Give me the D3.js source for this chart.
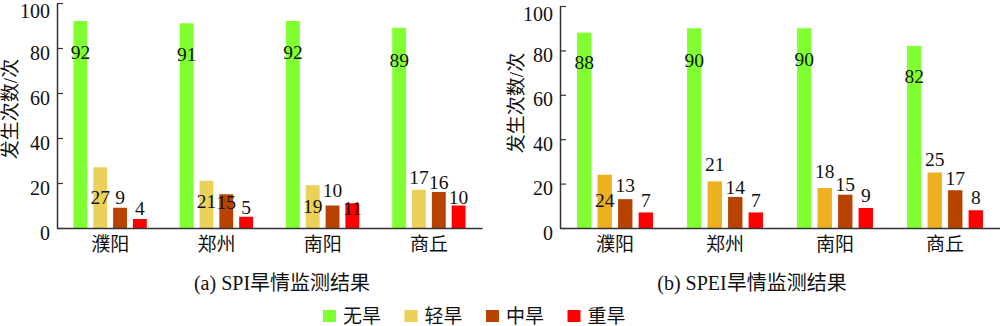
<!DOCTYPE html>
<html>
<head>
<meta charset="utf-8">
<script src="https://cdn.jsdelivr.net/npm/d3@7"></script>
<style>
  body { margin: 0; background: #fff; }
  text { font-family: "Liberation Serif", "Noto Sans CJK SC", serif; fill: #111; }
</style>
</head>
<body>
<script>
// categories and series
var cities = ['濮阳', '郑州', '南阳', '商丘'];
var levels = ['无旱', '轻旱', '中旱', '重旱'];

// SPI results
var spiNone = [92, 91, 92, 89];
var spiLight = [27, 21, 19, 17];
var spiMid = [9, 15, 10, 16];
var spiHeavy = [4, 5, 11, 10];

// SPEI results
var speiNone = [88, 90, 90, 82];
var speiLight = [24, 21, 18, 25];
var speiMid = [13, 14, 15, 17];
var speiHeavy = [7, 7, 9, 8];

var yTicks = [0, 20, 40, 60, 80, 100];

// label nudges (px from bar top, per city, per level) - the source placed them by hand
var spiLabelNudge = [[31, 30, -11, -11], [31, 20, 8, -10], [31, 21, -15, 5], [32, -13, -10, -8]];
var speiLabelNudge = [[30, 25, -14, -12], [32, -17, -10, -12], [31, -17, -11, -13], [30, -13, -12, -13]];

var spiColors = ['#80ff33', '#ebd05a', '#b84300', '#ff0000'];
var speiColors = ['#80ff33', '#edb020', '#b84300', '#ff0000'];

var W = 1000, H = 326;
var svg = d3.select('body').append('svg').attr('width', W).attr('height', H);

function drawPanel(cfg) {
  var series = [cfg.none, cfg.light, cfg.mid, cfg.heavy];
  var rows = [];
  cities.forEach(function(c, i) {
    levels.forEach(function(l, j) {
      rows.push({city: c, level: l, value: series[j][i], ci: i, li: j});
    });
  });

  var x0 = d3.scaleBand().domain(cities).range(cfg.xRange)
    .paddingInner(0.31).paddingOuter(0.155);
  var x1 = d3.scaleBand().domain(levels).range([0, x0.bandwidth()]).paddingInner(0.3);
  var y = d3.scaleLinear().domain([0, 100]).range(cfg.yRange);

  var g = svg.append('g');

  // bars
  g.selectAll('rect.bar')
    .data(rows)
    .enter()
    .append('rect')
    .attr('class', 'bar')
    .attr('x', function(d) { return x0(d.city) + x1(d.level); })
    .attr('y', function(d) { return y(d.value); })
    .attr('width', x1.bandwidth())
    .attr('height', function(d) { return y(0) - y(d.value); })
    .attr('fill', function(d) { return cfg.colors[d.li]; });

  // value labels
  g.selectAll('text.val')
    .data(rows)
    .enter()
    .append('text')
    .attr('class', 'val')
    .attr('x', function(d) { return x0(d.city) + x1(d.level) + x1.bandwidth() / 2; })
    .attr('y', function(d) { return y(d.value) + cfg.nudge[d.ci][d.li]; })
    .attr('dy', '0.35em')
    .attr('text-anchor', 'middle')
    .style('font-size', '19.5px')
    .text(function(d) { return d.value; });

  // y axis, ticks pointing inward
  var ya = g.append('g')
    .attr('transform', 'translate(' + cfg.xRange[0] + ',0)')
    .call(d3.axisLeft(y).tickValues(yTicks).tickSizeInner(-6).tickSizeOuter(0).tickPadding(7));
  ya.selectAll('text')
    .attr('font-family', null)
    .attr('dy', function(d) { return d === 100 ? '0.72em' : '0.55em'; })
    .style('font-size', '20px');
  ya.select('.domain').attr('stroke', '#333').attr('stroke-width', 1.5);
  ya.selectAll('.tick line').attr('stroke', '#333').attr('stroke-width', 1.2);

  // x axis
  var xa = g.append('g')
    .attr('transform', 'translate(0,' + cfg.yRange[0] + ')')
    .call(d3.axisBottom(x0).tickSize(0).tickPadding(12));
  xa.select('.domain').attr('stroke', '#333').attr('stroke-width', 1.5);
  xa.selectAll('text')
    .attr('font-family', null)
    .style('font-size', '19px')
    .attr('dy', '0.6em');

  // y title
  g.append('text')
    .attr('transform', 'translate(' + cfg.yTitle[0] + ',' + cfg.yTitle[1] + ') rotate(-90)')
    .attr('text-anchor', 'middle')
    .attr('dy', '0.35em')
    .style('font-size', '19px')
    .text('发生次数/次');

  // caption
  g.append('text')
    .attr('x', cfg.caption[0])
    .attr('y', cfg.caption[1])
    .attr('text-anchor', 'middle')
    .attr('dy', '0.35em')
    .style('font-size', '20px')
    .text(cfg.title);
}

drawPanel({
  none: spiNone, light: spiLight, mid: spiMid, heavy: spiHeavy,
  colors: spiColors, nudge: spiLabelNudge,
  xRange: [57, 482], yRange: [228, 3],
  yTitle: [10, 109], caption: [282, 283],
  title: '(a) SPI旱情监测结果'
});

drawPanel({
  none: speiNone, light: speiLight, mid: speiMid, heavy: speiHeavy,
  colors: speiColors, nudge: speiLabelNudge,
  xRange: [560, 1000], yRange: [228, 6],
  yTitle: [516, 103], caption: [752, 283],
  title: '(b) SPEI旱情监测结果'
});

// legend
var legend = svg.append('g').attr('transform', 'translate(323,310)');
var item = legend.selectAll('g')
  .data(levels)
  .enter()
  .append('g')
  .attr('transform', function(d, i) { return 'translate(' + i * 81.5 + ',0)'; });
item.append('rect')
  .attr('width', 13)
  .attr('height', 12)
  .attr('fill', function(d, i) { return spiColors[i]; });
item.append('text')
  .attr('x', 20)
  .attr('y', 6)
  .attr('dy', '0.35em')
  .style('font-size', '19px')
  .text(function(d) { return d; });
</script>
</body>
</html>
